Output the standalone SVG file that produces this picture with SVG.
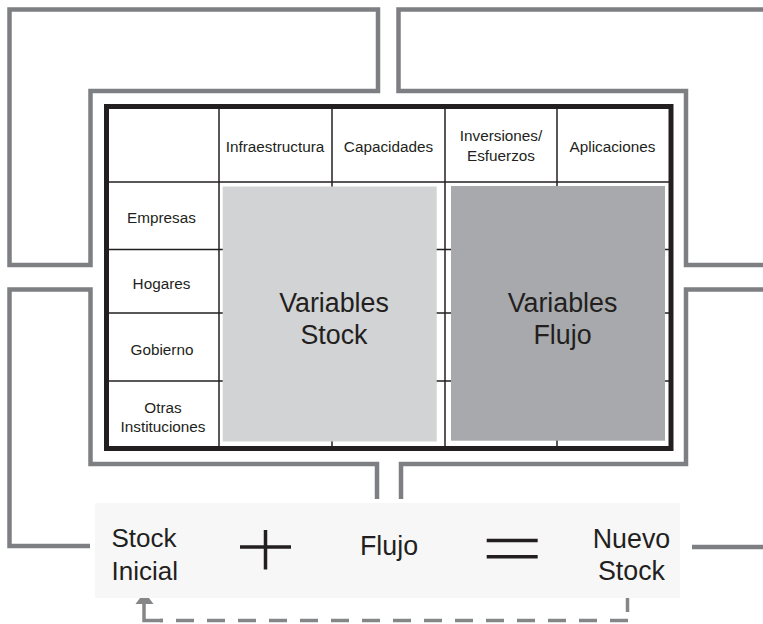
<svg xmlns="http://www.w3.org/2000/svg" width="763" height="624" viewBox="0 0 763 624">
  <style>
    text { font-family: "Liberation Sans", Arial, Helvetica, sans-serif; fill: #231f20; }
    .small { font-size: 15.3px; text-anchor: middle; }
    .big { font-size: 26.8px; text-anchor: middle; }
    .frame { fill: none; stroke: #7d7f82; stroke-width: 4.5; stroke-linejoin: miter; }
    .grid { stroke: #231f20; stroke-width: 1.5; }
    .op { stroke: #231f20; stroke-width: 3.5; }
    .dash { fill: none; stroke: #858688; stroke-width: 3.5; }
  </style>

  <rect width="763" height="624" fill="#ffffff"/>

  <!-- gray enclosing frames and feedback path -->
  <g id="connectors">
    <polygon class="frame" points="9.5,9.5 378,9.5 378,91 90.5,91 90.5,265 9.5,265"/>
    <polyline class="frame" points="766,9.5 398.5,9.5 398.5,91 686,91 686,265 766,265"/>
    <polyline class="frame" points="377,499 377,464 90.5,464 90.5,289.5 9.5,289.5 9.5,546 90,546"/>
    <polyline class="frame" points="401,499 401,464 686,464 686,289.5 766,289.5"/>
    <line class="frame" x1="692" y1="547" x2="766" y2="547"/>
    <!-- dashed return from Nuevo Stock to Stock Inicial -->
    <line class="dash" x1="627.5" y1="595" x2="627.5" y2="612"/>
    <line class="dash" x1="628" y1="620.5" x2="160" y2="620.5" stroke-dasharray="18 13"/>
    <polyline class="dash" points="163,620.5 144,620.5 144,604"/>
    <polygon points="144.5,592 153.5,604 135.5,604" fill="#858688"/>
  </g>

  <!-- matrix of sectors and variable types -->
  <g id="table">
    <rect x="106.5" y="106.5" width="564.5" height="342" fill="#ffffff"/>
    <g class="grid">
      <line x1="219" y1="106.5" x2="219" y2="448.5"/>
      <line x1="332" y1="106.5" x2="332" y2="448.5"/>
      <line x1="445" y1="106.5" x2="445" y2="448.5"/>
      <line x1="557" y1="106.5" x2="557" y2="448.5"/>
      <line x1="106.5" y1="182" x2="671" y2="182"/>
      <line x1="106.5" y1="249.5" x2="671" y2="249.5"/>
      <line x1="106.5" y1="313" x2="671" y2="313"/>
      <line x1="106.5" y1="381" x2="671" y2="381"/>
    </g>
    <rect x="106.5" y="106.5" width="564.5" height="342" fill="none" stroke="#231f20" stroke-width="5"/>
    <text class="small" x="275" y="152">Infraestructura</text>
    <text class="small" x="388.5" y="152">Capacidades</text>
    <text class="small" x="501" y="141">Inversiones/</text>
    <text class="small" x="501" y="160.5">Esfuerzos</text>
    <text class="small" x="612.5" y="152">Aplicaciones</text>
    <text class="small" x="161.5" y="223">Empresas</text>
    <text class="small" x="161.5" y="289">Hogares</text>
    <text class="small" x="162" y="355">Gobierno</text>
    <text class="small" x="163" y="412.5">Otras</text>
    <text class="small" x="163" y="431.5">Instituciones</text>
  </g>

  <g id="variables-stock">
    <rect x="222.7" y="186.5" width="214" height="255" fill="#d1d3d4"/>
    <text class="big" x="334" y="311.5">Variables</text>
    <text class="big" x="334" y="343.5">Stock</text>
  </g>

  <g id="variables-flujo">
    <rect x="451" y="186" width="214" height="254.7" fill="#a7a9ac"/>
    <text class="big" x="562.5" y="311.5">Variables</text>
    <text class="big" x="562.5" y="343.5">Flujo</text>
  </g>

  <!-- stock-flow equation -->
  <g id="equation">
    <rect x="95" y="503" width="585" height="95" fill="#f7f7f7"/>
  </g>
  <g id="stock-inicial">
    <text x="111.5" y="546.7" style="font-size:26px">Stock</text>
    <text x="111.5" y="580" style="font-size:26px">Inicial</text>
  </g>
  <g id="plus">
    <line class="op" x1="240" y1="547" x2="291" y2="547"/>
    <line class="op" x1="265.5" y1="530" x2="265.5" y2="569.5"/>
  </g>
  <g id="flujo">
    <text class="big" x="389" y="555">Flujo</text>
  </g>
  <g id="equals">
    <line class="op" x1="486.7" y1="540.5" x2="537.7" y2="540.5"/>
    <line class="op" x1="486.7" y1="556.8" x2="537.7" y2="556.8"/>
  </g>
  <g id="nuevo-stock">
    <text class="big" x="631.5" y="548">Nuevo</text>
    <text class="big" x="631.5" y="580">Stock</text>
  </g>
</svg>
